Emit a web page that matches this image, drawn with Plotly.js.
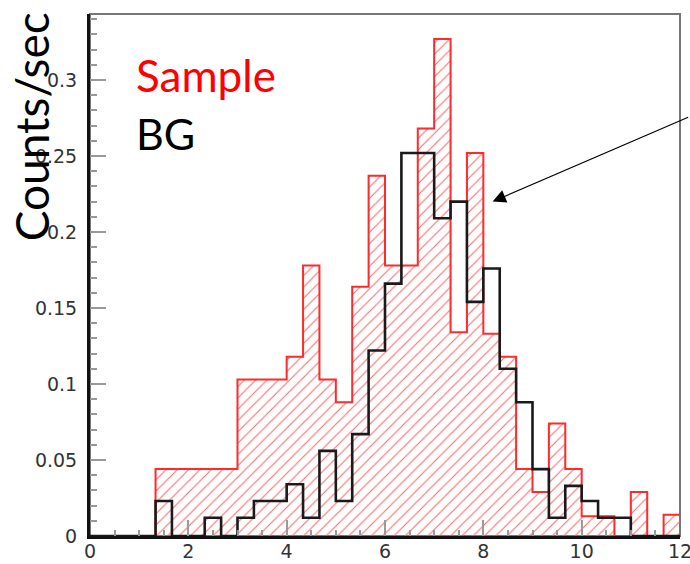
<!DOCTYPE html>
<html>
<head>
<meta charset="utf-8">
<script src="https://cdn.plot.ly/plotly-3.0.1.min.js"></script>
<style>html,body{margin:0;padding:0;background:#fff;}#chart{width:690px;height:564px;}</style>
</head>
<body>
<div id="chart"></div>
<script>
// Bin lower edges (bin width 1/3) and the closing upper edge
const binEdges = [0, 1/3, 2/3, 1, 4/3, 5/3, 2, 7/3, 8/3, 3, 10/3, 11/3, 4, 13/3, 14/3, 5, 16/3, 17/3,
  6, 19/3, 20/3, 7, 22/3, 23/3, 8, 25/3, 26/3, 9, 28/3, 29/3, 10, 31/3, 32/3, 11, 34/3, 35/3, 12];

// Sample histogram (counts/sec per bin)
const sampleValues = [0, 0, 0, 0, 0.044, 0.044, 0.044, 0.044, 0.044, 0.103, 0.103, 0.103,
  0.118, 0.178, 0.103, 0.088, 0.164, 0.237, 0.178, 0.178, 0.268, 0.327, 0.134, 0.252,
  0.133, 0.118, 0.044, 0.029, 0.074, 0.044, 0.013, 0.013, 0, 0.029, 0, 0.014];

// Background histogram (counts/sec per bin)
const bgValues = [0, 0, 0, 0, 0.023, 0, 0, 0.012, 0, 0.012, 0.023, 0.023,
  0.034, 0.012, 0.056, 0.023, 0.067, 0.122, 0.166, 0.252, 0.252, 0.209, 0.220, 0.154,
  0.176, 0.110, 0.088, 0.044, 0.012, 0.033, 0.023, 0.012, 0.012, 0, 0, 0];

const xTickVals = [0, 2, 4, 6, 8, 10, 12];
const yTickVals = [0, 0.05, 0.1, 0.15, 0.2, 0.25, 0.3];
const labels = {sample: 'Sample', bg: 'BG', yTitle: 'Counts/sec'};

const centers = sampleValues.map((_, i) => (binEdges[i] + binEdges[i + 1]) / 2);
const widths = sampleValues.map((_, i) => binEdges[i + 1] - binEdges[i]);
const stepY = arr => arr.concat([arr[arr.length - 1]]);

const traces = [
  {
    type: 'bar', x: centers, y: sampleValues, width: widths,
    marker: {
      color: '#ff3b3b',
      line: {width: 0},
      pattern: {shape: '/', fillmode: 'replace', fgcolor: '#ff5a5a', fgopacity: 0.9, bgcolor: 'rgba(0,0,0,0)', size: 8, solidity: 0.14}
    },
    hoverinfo: 'skip'
  },
  {
    type: 'scatter', mode: 'lines', x: binEdges, y: stepY(sampleValues),
    line: {shape: 'hv', color: '#ff2a2a', width: 2}, hoverinfo: 'skip'
  },
  {
    type: 'scatter', mode: 'lines', x: binEdges, y: stepY(bgValues),
    line: {shape: 'hv', color: '#1a1a1a', width: 2.6}, hoverinfo: 'skip'
  }
];

const tickFont = {family: 'DejaVu Sans, sans-serif', size: 19, color: '#333'};
const textFont = 'Lato, "Open Sans", sans-serif';

const layout = {
  width: 690, height: 564,
  margin: {l: 90, r: 10, t: 14, b: 28, pad: 0},
  paper_bgcolor: '#ffffff', plot_bgcolor: '#ffffff',
  showlegend: false, bargap: 0,
  xaxis: {
    range: [0, 12], tickvals: xTickVals, ticks: 'inside', ticklen: 16, tickwidth: 2, tickcolor: '#9a9a9a',
    showline: true, linecolor: '#111', linewidth: 3, showgrid: false, zeroline: false,
    tickfont: tickFont, ticklabelstandoff: -4, ticklabeloverflow: 'allow',
    minor: {dtick: 0.5, tick0: 0, ticks: 'inside', ticklen: 6, tickwidth: 2, tickcolor: '#9a9a9a', showgrid: false}
  },
  yaxis: {
    range: [0, 0.3434], tickvals: yTickVals, ticks: 'inside', ticklen: 16, tickwidth: 2, tickcolor: '#9a9a9a',
    showline: true, linecolor: '#111', linewidth: 3, showgrid: false, zeroline: false,
    tickfont: tickFont, ticklabelstandoff: 6, ticklabeloverflow: 'allow',
    minor: {dtick: 0.01, tick0: 0, ticks: 'inside', ticklen: 7, tickwidth: 2, tickcolor: '#9a9a9a', showgrid: false}
  },
  shapes: [
    {type: 'rect', xref: 'paper', yref: 'paper', x0: 0, x1: 1, y0: 0, y1: 1, line: {color: '#777', width: 2}, layer: 'below'}
  ],
  annotations: [
    {xref: 'paper', yref: 'paper', x: 0.074, y: 0.883, xanchor: 'left', yanchor: 'middle', showarrow: false,
     text: labels.sample, font: {family: textFont, size: 44, color: '#ff0000'}},
    {xref: 'paper', yref: 'paper', x: 0.074, y: 0.772, xanchor: 'left', yanchor: 'middle', showarrow: false,
     text: labels.bg, font: {family: textFont, size: 43, color: '#000'}},
    {xref: 'paper', yref: 'paper', x: -0.1, y: 0.783, xanchor: 'center', yanchor: 'middle', showarrow: false,
     textangle: -90, text: labels.yTitle, font: {family: textFont, size: 46, color: '#000'}},
    {x: 8.19, y: 0.22, xref: 'x', yref: 'y', ax: 197, ay: -85, text: '', showarrow: true,
     arrowhead: 2, arrowsize: 2.2, arrowwidth: 1.2, arrowcolor: '#000', standoff: 0}
  ]
};

Plotly.newPlot('chart', traces, layout, {staticPlot: true, displayModeBar: false});
</script>
</body>
</html>
